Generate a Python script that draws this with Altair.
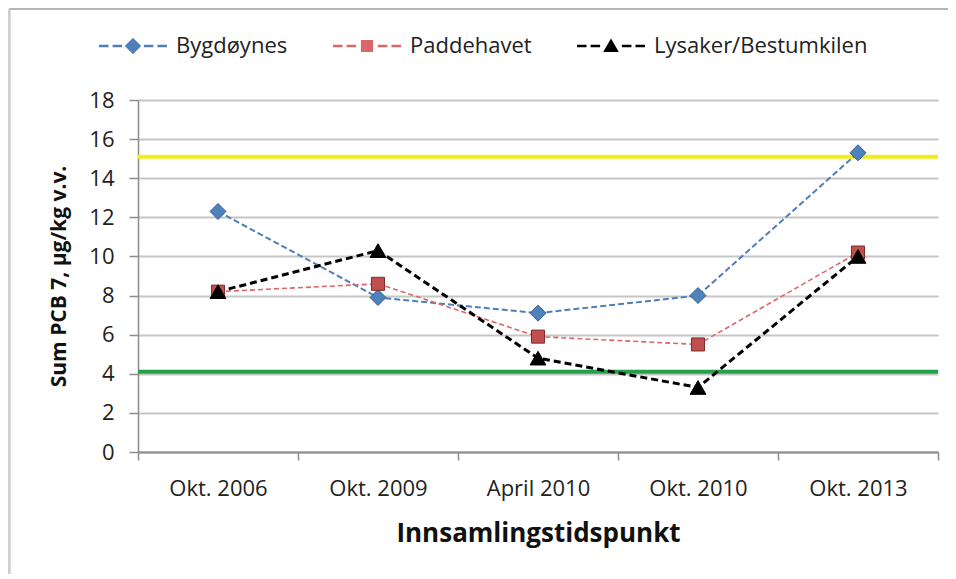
import altair as alt
import pandas as pd

# ---- data ----
categories = ["Okt. 2006", "Okt. 2009", "April 2010", "Okt. 2010", "Okt. 2013"]
series_names = ["Bygdøynes", "Paddehavet", "Lysaker/Bestumkilen"]
bygdoynes = [12.3, 7.9, 7.1, 8.0, 15.3]
paddehavet = [8.2, 8.6, 5.9, 5.5, 10.2]
lysaker = [8.2, 10.3, 4.8, 3.3, 10.0]
ref_levels = [15.1, 4.1]
ref_colors = ["#f2ec1c", "#22a04a"]
y_ticks = list(range(0, 19, 2))

line_colors = ["#4f7fb8", "#d9676a", "#000000"]
marker_fills = ["#4f81bd", "#c0504d", "#000000"]
marker_strokes = ["#35608f", "#7a2c2a", "#000000"]
marker_shapes = ["diamond", "square", "triangle-up"]
marker_sizes = [256, 170, 250]
line_widths = [2, 1.6, 3]
line_dashes = [[6, 3], [5, 3], [7, 4]]

rows = []
for name, vals in zip(series_names, [bygdoynes, paddehavet, lysaker]):
    for c, v in zip(categories, vals):
        rows.append({"series": name, "cat": c, "value": v})
df = pd.DataFrame(rows)
ref_df = pd.DataFrame({"level": ref_levels, "color": ref_colors})

FONT = "Open Sans"
W, H = 800, 352

x_enc = alt.X(
    "cat:N",
    sort=categories,
    scale=alt.Scale(type="band", paddingInner=0, paddingOuter=0),
    axis=alt.Axis(
        title="Innsamlingstidspunkt",
        labelAngle=0,
        labelFontSize=22,
        labelFont=FONT,
        labelColor="#222222",
        labelPadding=18,
        tickBand="extent",
        tickSize=8,
        tickColor="#8c8c8c",
        tickWidth=1.5,
        domainColor="#8c8c8c",
        domainWidth=2,
        grid=False,
        titleFont=FONT,
        titleFontSize=26,
        titleFontWeight="bold",
        titleColor="#111111",
        titlePadding=21,
    ),
)
y_scale = alt.Scale(domain=[0, 18], nice=False)
y_axis = alt.Axis(
    title="Sum PCB 7, µg/kg v.v.",
    values=y_ticks,
    tickCount=10,
    labelFontSize=22,
    labelFont=FONT,
    labelColor="#222222",
    labelPadding=15,
    tickSize=9,
    tickColor="#8c8c8c",
    tickWidth=1.5,
    domainColor="#8c8c8c",
    domainWidth=1.5,
    gridColor="#c6c6c6",
    gridWidth=2,
    titleFont=FONT,
    titleFontSize=21,
    titleFontWeight="bold",
    titleColor="#111111",
    titlePadding=19,
)
y_enc = alt.Y("value:Q", scale=y_scale, axis=y_axis)

base = alt.Chart(df)

ref_layers = []
for lvl, col in zip(ref_levels, ref_colors):
    ref_layers.append(
        alt.Chart(ref_df).transform_filter(alt.datum.level == lvl)
        .mark_rule(strokeWidth=4, color=col)
        .encode(y=alt.Y("level:Q", scale=y_scale, axis=y_axis))
    )

line_layers = []
point_layers = []
for i, name in enumerate(series_names):
    sub = base.transform_filter(alt.datum.series == name)
    line_layers.append(
        sub.mark_line(
            color=line_colors[i],
            strokeWidth=line_widths[i],
            strokeDash=line_dashes[i],
        ).encode(x=x_enc, y=y_enc)
    )
    point_layers.append(
        sub.mark_point(
            shape=marker_shapes[i],
            filled=True,
            fill=marker_fills[i],
            stroke=marker_strokes[i],
            strokeWidth=1,
            opacity=1,
            size=marker_sizes[i],
        ).encode(x=x_enc, y=y_enc)
    )

# legend-only layer: custom symbols with dashes on both sides of the marker
dashes = "M-1,-0.035H-0.72V0.035H-1Z M-0.6,-0.035H-0.32V0.035H-0.6Z M0.32,-0.035H0.6V0.035H0.32Z M0.72,-0.035H1V0.035H0.72Z"
legend_paths = [
    dashes + " M0,-0.24L0.24,0L0,0.24L-0.24,0Z",
    dashes + " M-0.18,-0.18H0.18V0.18H-0.18Z",
    dashes + " M0,-0.22L0.23,0.18L-0.23,0.18Z",
]
leg = alt.Legend(
    title=None,
    orient="none",
    direction="horizontal",
    legendX=-39,
    legendY=-88,
    labelFont=FONT,
    labelFontSize=22,
    labelColor="#222222",
    labelLimit=400,
    symbolSize=4624,
    symbolOpacity=1,
    symbolStrokeWidth=0,
    labelOffset=9,
    columnPadding=45,
    padding=0,
)
legend_layer = base.transform_filter("false").mark_point(filled=True).encode(
    x=x_enc,
    y=y_enc,
    color=alt.Color("series:N", sort=series_names,
                    scale=alt.Scale(domain=series_names, range=line_colors), legend=leg),
    shape=alt.Shape("series:N", sort=series_names,
                    scale=alt.Scale(domain=series_names, range=legend_paths), legend=leg),
)

frame_top = alt.Chart(ref_df).mark_rule(color="#b4b4b4", strokeWidth=2).encode(
    x=alt.value(-129), x2=alt.value(W + 10), y=alt.value(-91)
)
frame_left = alt.Chart(ref_df).mark_rule(color="#cfcfcf", strokeWidth=3).encode(
    x=alt.value(-129), y=alt.value(-91), y2=alt.value(H + 130)
)

chart = alt.layer(
    frame_top, frame_left, *ref_layers, *line_layers, *point_layers, legend_layer
).properties(
    width=W,
    height=H,
    autosize="none",
    padding={"left": 130, "top": 92, "right": 10, "bottom": 122},
    background="white",
).configure_view(stroke=None)

chart.save("out.html", embed_options={"renderer": "svg", "actions": False})
